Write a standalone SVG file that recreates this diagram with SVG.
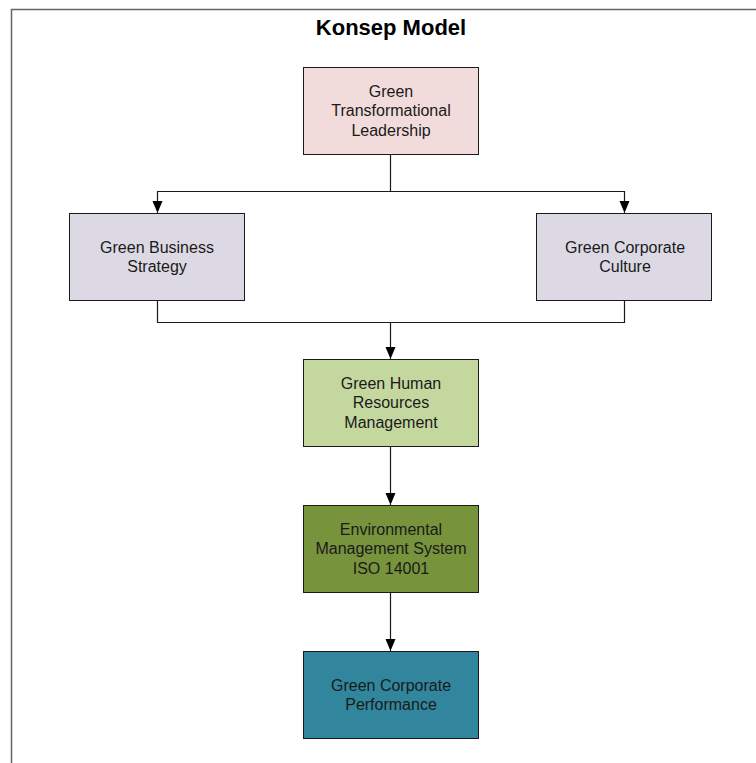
<svg xmlns="http://www.w3.org/2000/svg" width="756" height="763" viewBox="0 0 756 763">
<style>
.box{stroke:#1a1a1a;stroke-width:1}
.t{font-family:"Liberation Sans",Arial,sans-serif;font-size:16px;fill:#1a1a1a;text-anchor:middle}
.c{fill:none;stroke:#1a1a1a;stroke-width:1.2}
</style>
<defs>
<marker id="ah" viewBox="0 0 10 12" refX="12" refY="5" markerWidth="10" markerHeight="12" markerUnits="userSpaceOnUse" orient="auto">
<path d="M0,0 L12,5 L0,10 z" fill="#000"/>
</marker>
</defs>
<rect width="756" height="763" fill="#fff"/>
<path d="M11.5,763 V9.5 H756" fill="none" stroke="#666" stroke-width="1.5"/>
<text x="391" y="35" font-family="'Liberation Sans',Arial,sans-serif" font-size="22" font-weight="bold" text-anchor="middle" fill="#000">Konsep Model</text>
<g id="connectors">
<path class="c" d="M390.5,154 V191.5 H157.5 V213" marker-end="url(#ah)"/>
<path class="c" d="M390.5,191.5 H624.5 V213" marker-end="url(#ah)"/>
<path class="c" d="M157.5,300 V322.5 H624.5 V300"/>
<path class="c" d="M390.5,322.5 V359" marker-end="url(#ah)"/>
<path class="c" d="M390.5,446 V505" marker-end="url(#ah)"/>
<path class="c" d="M390.5,592 V651" marker-end="url(#ah)"/>
</g>
<g id="gtl">
<rect class="box" x="303.5" y="67.5" width="175" height="87" fill="#F2DCDB"/>
<text class="t" x="391" y="97">Green</text>
<text class="t" x="391" y="116">Transformational</text>
<text class="t" x="391" y="136">Leadership</text>
</g>
<g id="gbs">
<rect class="box" x="69.5" y="213.5" width="175" height="87" fill="#DDD9E4"/>
<text class="t" x="157" y="253">Green Business</text>
<text class="t" x="157" y="272">Strategy</text>
</g>
<g id="gcc">
<rect class="box" x="536.5" y="213.5" width="175" height="87" fill="#DDD9E4"/>
<text class="t" x="625" y="253">Green Corporate</text>
<text class="t" x="625" y="272">Culture</text>
</g>
<g id="ghrm">
<rect class="box" x="303.5" y="359.5" width="175" height="87" fill="#C4D79F"/>
<text class="t" x="391" y="389">Green Human</text>
<text class="t" x="391" y="408">Resources</text>
<text class="t" x="391" y="428">Management</text>
</g>
<g id="ems">
<rect class="box" x="303.5" y="505.5" width="175" height="87" fill="#77933C"/>
<text class="t" x="391" y="535">Environmental</text>
<text class="t" x="391" y="554">Management System</text>
<text class="t" x="391" y="574">ISO 14001</text>
</g>
<g id="gcp">
<rect class="box" x="303.5" y="651.5" width="175" height="87" fill="#31859C"/>
<text class="t" x="391" y="691">Green Corporate</text>
<text class="t" x="391" y="710">Performance</text>
</g>
</svg>
